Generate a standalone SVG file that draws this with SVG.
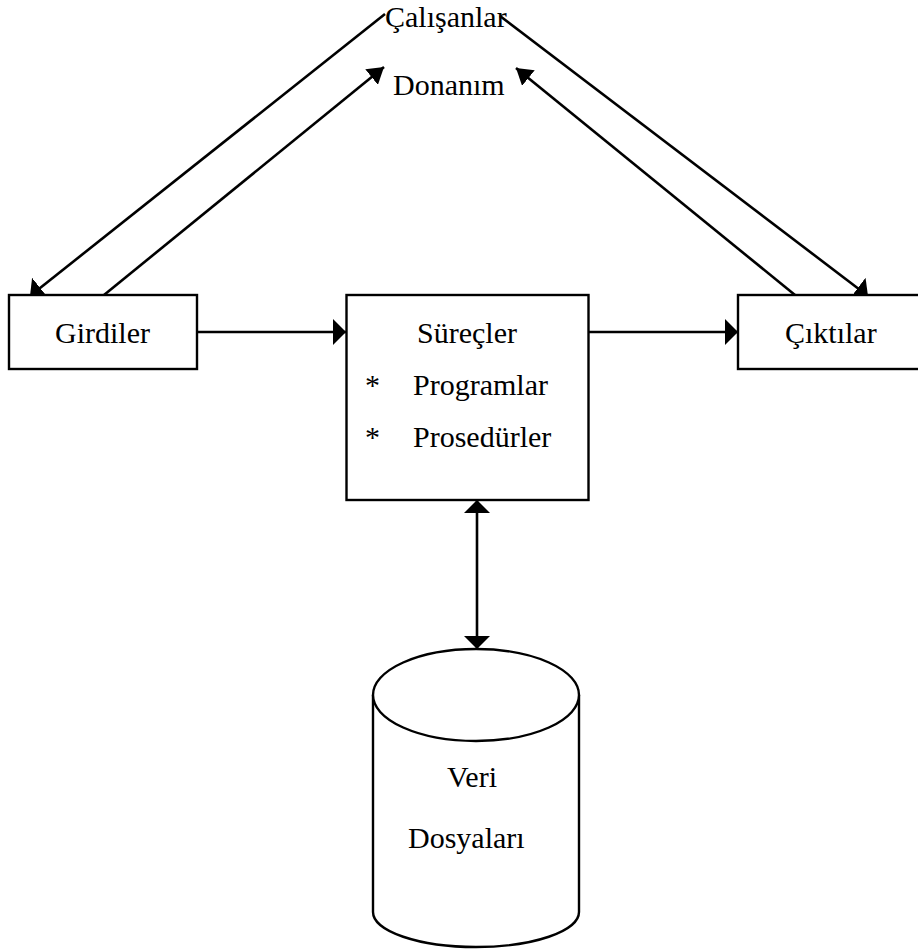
<svg xmlns="http://www.w3.org/2000/svg" width="918" height="950" viewBox="0 0 918 950">
  <style>
    .box { fill: #ffffff; stroke: #000000; stroke-width: 2.4; }
    .lbl { font-family: "Liberation Serif", "Times New Roman", serif; font-size: 30px; fill: #000000; }
    .wire { fill: none; stroke: #000000; stroke-width: 2.6; }
  </style>
  <defs>
    <!-- short, wide arrowhead used on most connectors -->
    <marker id="headWide" markerUnits="userSpaceOnUse" markerWidth="13" markerHeight="26" refX="13" refY="13" orient="auto-start-reverse">
      <path d="M0,0 L13,13 L0,26 z" fill="#000000"/>
    </marker>
    <!-- slimmer arrowhead pointing at the hardware label -->
    <marker id="headSlim" markerUnits="userSpaceOnUse" markerWidth="16" markerHeight="20" refX="16" refY="10" orient="auto">
      <path d="M0,0 L16,10 L0,20 z" fill="#000000"/>
    </marker>
  </defs>

  <rect x="0" y="0" width="918" height="950" fill="#ffffff"/>

  <!-- connectors -->
  <g id="connectors">
    <line class="wire" x1="385" y1="14" x2="30" y2="296" marker-end="url(#headWide)"/>
    <line class="wire" x1="104" y1="295" x2="384" y2="67" marker-end="url(#headSlim)"/>
    <line class="wire" x1="795" y1="295" x2="516" y2="68" marker-end="url(#headSlim)"/>
    <line class="wire" x1="500" y1="16" x2="868" y2="296" marker-end="url(#headWide)"/>
    <line class="wire" x1="197" y1="332" x2="346" y2="332" marker-end="url(#headWide)"/>
    <line class="wire" x1="588" y1="332" x2="738" y2="332" marker-end="url(#headWide)"/>
    <line class="wire" x1="477" y1="649" x2="477" y2="500" marker-start="url(#headWide)" marker-end="url(#headWide)"/>
  </g>

  <!-- people / hardware labels at the apex -->
  <g id="calisanlar">
    <text class="lbl" x="385" y="27">Çalışanlar</text>
  </g>
  <g id="donanim">
    <text class="lbl" x="393" y="95">Donanım</text>
  </g>

  <!-- inputs -->
  <g id="girdiler">
    <rect class="box" x="9" y="295" width="188" height="74"/>
    <text class="lbl" x="55" y="343">Girdiler</text>
  </g>

  <!-- processes -->
  <g id="surecler">
    <rect class="box" x="346.5" y="295" width="242" height="205"/>
    <text class="lbl" x="417" y="343">Süreçler</text>
    <text class="lbl" x="365" y="395">*</text>
    <text class="lbl" x="413" y="395">Programlar</text>
    <text class="lbl" x="365" y="447">*</text>
    <text class="lbl" x="413" y="447">Prosedürler</text>
  </g>

  <!-- outputs -->
  <g id="ciktilar">
    <rect class="box" x="738" y="295" width="200" height="74"/>
    <text class="lbl" x="785" y="343">Çıktılar</text>
  </g>

  <!-- data files cylinder -->
  <g id="veri-dosyalari">
    <path class="box" d="M373,695 L373,912 A103,35 0 0 0 579,912 L579,695"/>
    <ellipse class="box" cx="476" cy="695" rx="103" ry="46"/>
    <text class="lbl" x="447" y="787">Veri</text>
    <text class="lbl" x="408" y="848">Dosyaları</text>
  </g>
</svg>
